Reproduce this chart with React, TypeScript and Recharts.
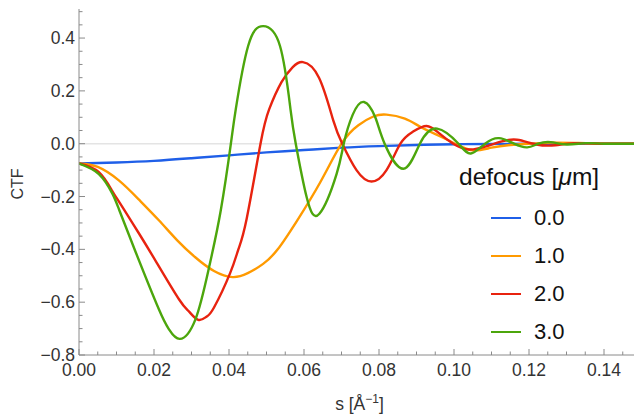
import React from "react";
import { LineChart, Line, XAxis, YAxis, ReferenceLine, Legend, Label } from "recharts";

// CTF curves, one pair of arrays per defocus value
const sDef0 = [0, 0.01, 0.02, 0.03, 0.04, 0.05, 0.06, 0.07, 0.08, 0.09, 0.1, 0.11, 0.12, 0.148];
const vDef0 = [-0.075, -0.071, -0.065, -0.055, -0.044, -0.033, -0.024, -0.015, -0.009, -0.005, -0.002, -0.001, 0, 0];

const sDef1 = [0, 0.005, 0.0107, 0.016, 0.0213, 0.0262, 0.031, 0.036, 0.041, 0.045, 0.0491, 0.053, 0.058, 0.0643, 0.07, 0.0745, 0.0785, 0.082, 0.0869, 0.091, 0.0958, 0.1003, 0.105, 0.11, 0.115, 0.12, 0.126, 0.132, 0.14, 0.148];
const vDef1 = [-0.075, -0.088, -0.14, -0.212, -0.29, -0.366, -0.43, -0.482, -0.505, -0.49, -0.455, -0.4, -0.295, -0.147, 0, 0.07, 0.103, 0.11, 0.095, 0.064, 0.031, 0, -0.025, -0.015, -0.005, 0, 0.004, 0.003, 0, 0];

const sDef2 = [0, 0.0053, 0.0088, 0.0107, 0.016, 0.0207, 0.0267, 0.0293, 0.0318, 0.034, 0.036, 0.0403, 0.0425, 0.0447, 0.0484, 0.0507, 0.054, 0.057, 0.0597, 0.064, 0.0678, 0.0702, 0.074, 0.078, 0.082, 0.0857, 0.089, 0.0927, 0.096, 0.0998, 0.104, 0.1085, 0.1125, 0.1168, 0.122, 0.127, 0.132, 0.14, 0.148];
const vDef2 = [-0.075, -0.108, -0.178, -0.22, -0.34, -0.45, -0.59, -0.635, -0.667, -0.655, -0.62, -0.49, -0.4, -0.285, 0, 0.13, 0.233, 0.29, 0.309, 0.25, 0.088, 0, -0.1, -0.143, -0.1, 0, 0.045, 0.067, 0.04, 0, -0.022, -0.01, 0.008, 0.015, -0.003, -0.006, 0.002, 0, 0];

const sDef3 = [0, 0.0053, 0.0089, 0.0107, 0.0151, 0.0213, 0.024, 0.0269, 0.0311, 0.0347, 0.0378, 0.0405, 0.0418, 0.0451, 0.0491, 0.0536, 0.0564, 0.0578, 0.0607, 0.0641, 0.0687, 0.0706, 0.073, 0.076, 0.079, 0.0815, 0.0865, 0.0909, 0.0955, 0.1012, 0.1045, 0.1083, 0.112, 0.116, 0.1195, 0.1225, 0.1258, 0.13, 0.135, 0.14, 0.148];
const vDef3 = [-0.075, -0.115, -0.189, -0.25, -0.41, -0.627, -0.703, -0.739, -0.663, -0.467, -0.253, 0, 0.13, 0.37, 0.445, 0.37, 0.13, 0, -0.202, -0.265, -0.114, 0, 0.11, 0.158, 0.1, 0, -0.095, 0, 0.057, 0, -0.037, 0, 0.021, 0, -0.014, 0, 0.006, -0.003, 0.002, 0, 0];

const seriesNames = ["0.0", "1.0", "2.0", "3.0"];
const seriesColors = ["#1f5fe8", "#ff9a00", "#e8230f", "#4ca60c"];

const xMajor = [0, 0.02, 0.04, 0.06, 0.08, 0.1, 0.12, 0.14];
const yMajor = [-0.8, -0.6, -0.4, -0.2, 0, 0.2, 0.4];
const xMinor = Array.from({ length: 30 }, (_, i) => +(i * 0.005).toFixed(3));
const yMinor = Array.from({ length: 27 }, (_, i) => +(-0.8 + i * 0.05).toFixed(2));

const FONT = '"Liberation Sans", Arial, Helvetica, sans-serif';
const AXIS = "#8a8a8a";
const TEXT = "#333";

const toPoints = (s: number[], v: number[]) => s.map((x, i) => ({ s: x, v: v[i] }));
const seriesData = [toPoints(sDef0, vDef0), toPoints(sDef1, vDef1), toPoints(sDef2, vDef2), toPoints(sDef3, vDef3)];

const near = (v: number, list: number[]) => list.some((m) => Math.abs(m - v) < 1e-6);
const fmt = (v: number, d: number) => {
  const t = Math.abs(v).toFixed(d);
  return v < -1e-9 ? "\u2212" + t : t;
};

const BottomTick = (props: any) => {
  const { x, y, payload } = props;
  const major = near(payload.value, xMajor);
  return (
    <g>
      <line x1={x} x2={x} y1={y} y2={y - (major ? 6 : 3.5)} stroke={AXIS} />
      {major && (
        <text x={x} y={y + 21} textAnchor="middle" fontSize={17.5} fontFamily={FONT} fill={TEXT}>
          {fmt(payload.value, 2)}
        </text>
      )}
    </g>
  );
};

const TopTick = (props: any) => {
  const { x, y, payload } = props;
  const major = near(payload.value, xMajor);
  return <line x1={x} x2={x} y1={y} y2={y + (major ? 6 : 3.5)} stroke={AXIS} />;
};

const LeftTick = (props: any) => {
  const { x, y, payload } = props;
  const major = near(payload.value, yMajor);
  return (
    <g>
      <line x1={x} x2={x + (major ? 6 : 3.5)} y1={y} y2={y} stroke={AXIS} />
      {major && (
        <text x={x - 4} y={y + 6} textAnchor="end" fontSize={17.5} fontFamily={FONT} fill={TEXT}>
          {fmt(payload.value, 1)}
        </text>
      )}
    </g>
  );
};

const RightTick = (props: any) => {
  const { x, y, payload } = props;
  const major = near(payload.value, yMajor);
  return <line x1={x} x2={x - (major ? 6 : 3.5)} y1={y} y2={y} stroke={AXIS} />;
};

const XTitle = (props: any) => {
  const { viewBox } = props;
  const cx = viewBox.x + viewBox.width / 2 + 3;
  return (
    <text x={cx} y={410} textAnchor="middle" fontSize={17.5} fontFamily={FONT} fill={TEXT}>
      s [Å
      <tspan fontSize={12} dy={-7}>{"\u22121"}</tspan>
      <tspan dy={7}>]</tspan>
    </text>
  );
};

const YTitle = () => (
  <text x={23} y={184} transform="rotate(-90, 23, 184)" textAnchor="middle" fontSize={16} fontFamily={FONT} fill={TEXT}>
    CTF
  </text>
);

const LegendBox = () => (
  <div style={{ fontFamily: FONT, color: "#111" }}>
    <div style={{ fontSize: 24.5, lineHeight: "28px", whiteSpace: "nowrap" }}>
      defocus [<i>μ</i>m]
    </div>
    {seriesNames.map((name, i) => (
      <div key={name} style={{ display: "flex", alignItems: "center", height: 38, marginTop: i === 0 ? 8 : 0 }}>
        <div style={{ width: 30, height: 2, background: seriesColors[i], marginLeft: 32, marginRight: 13 }} />
        <span style={{ fontSize: 22 }}>{name}</span>
      </div>
    ))}
  </div>
);

export default function App() {
  return (
    <div style={{ position: "absolute", left: 0, top: 0, background: "#fff" }}>
      <LineChart width={637} height={418} margin={{ top: 9, right: 3, bottom: 0, left: 0 }}>
        <XAxis
          type="number"
          dataKey="s"
          domain={[0, 0.148]}
          ticks={xMinor}
          interval={0}
          allowDataOverflow
          height={63}
          tickSize={0}
          tickMargin={0}
          tickLine={false}
          tick={<BottomTick />}
          axisLine={{ stroke: AXIS }}
        >
          <Label content={<XTitle />} />
        </XAxis>
        <XAxis
          xAxisId="top"
          orientation="top"
          type="number"
          domain={[0, 0.148]}
          ticks={xMinor}
          interval={0}
          allowDataOverflow
          height={0}
          tickSize={0}
          tickMargin={0}
          tickLine={false}
          tick={<TopTick />}
          axisLine={{ stroke: AXIS }}
        />
        <YAxis
          type="number"
          domain={[-0.8, 0.51]}
          ticks={yMinor}
          interval={0}
          allowDataOverflow
          width={79}
          tickSize={0}
          tickMargin={0}
          tickLine={false}
          tick={<LeftTick />}
          axisLine={{ stroke: AXIS }}
        >
          <Label content={<YTitle />} />
        </YAxis>
        <YAxis
          yAxisId="right"
          orientation="right"
          type="number"
          domain={[-0.8, 0.51]}
          ticks={yMinor}
          interval={0}
          allowDataOverflow
          width={0}
          tickSize={0}
          tickMargin={0}
          tickLine={false}
          tick={<RightTick />}
          axisLine={{ stroke: AXIS }}
        />
        <ReferenceLine y={0} stroke="#e4e4e4" strokeWidth={1.5} />
        {seriesData.map((d, i) => (
          <Line
            key={seriesNames[i]}
            data={d}
            dataKey="v"
            name={seriesNames[i]}
            type="natural"
            stroke={seriesColors[i]}
            strokeWidth={2.4}
            dot={false}
            isAnimationActive={false}
          />
        ))}
        <Legend
          layout="vertical"
          align="center"
          verticalAlign="middle"
          content={<LegendBox />}
          wrapperStyle={{ left: 459, top: 163, width: 178 }}
        />
      </LineChart>
    </div>
  );
}
